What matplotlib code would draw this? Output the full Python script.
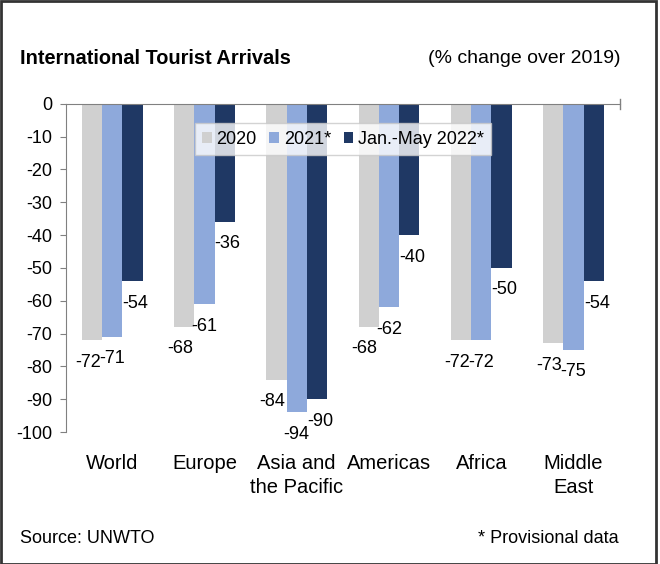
import numpy as np
from matplotlib import pyplot as plt
from matplotlib.patches import Rectangle

plt.rcParams['font.family'] = ['Liberation Sans', 'DejaVu Sans']
plt.rcParams['axes.unicode_minus'] = False

regions = ['World', 'Europe', 'Asia and\nthe Pacific', 'Americas', 'Africa', 'Middle\nEast']
series_names = ['2020', '2021*', 'Jan.-May 2022*']
vals_2020 = [-72, -68, -84, -68, -72, -73]
vals_2021 = [-71, -61, -94, -62, -72, -75]
vals_2022 = [-54, -36, -90, -40, -50, -54]

colors = ['#D0D0D0', '#8EA9DB', '#1F3864']
label_dx = [-4, 0, 3]  # small horizontal nudges of the data labels (pixels)

fig = plt.figure(figsize=(6.6, 5.64), dpi=100)
ax = fig.add_axes([0.1, 0.234, 0.839, 0.582])

x = np.arange(len(regions))
w = 0.22
for i, (name, vals) in enumerate(zip(series_names, [vals_2020, vals_2021, vals_2022])):
    pos = x + (i - 1) * w
    ax.bar(pos, vals, width=w, color=colors[i], label=name, zorder=2)
    for px, v in zip(pos, vals):
        ax.annotate(str(v), (px, v), xytext=(label_dx[i], -22), textcoords='offset pixels',
                    ha='center', va='center', fontsize=13)

ax.set_ylim(-100, 0)
ax.set_xlim(-0.5, len(regions) - 0.5)
ax.set_yticks(range(-100, 1, 10))
ax.tick_params(axis='y', labelsize=13, length=4, color='#808080', pad=6)
ax.set_xticks(x)
ax.set_xticklabels(regions, fontsize=14.5, linespacing=1.3, va='top')
ax.tick_params(axis='x', length=0, pad=16)

ax.spines['bottom'].set_visible(False)
ax.spines['right'].set_visible(False)
ax.spines['top'].set_color('#808080')
ax.spines['left'].set_color('#808080')
ax.plot([len(regions) - 0.5] * 2, [1.5, -1.5], color='#808080', lw=1, clip_on=False)

leg = ax.legend(loc='upper left', bbox_to_anchor=(0.216, 0.968), ncol=3, fontsize=13,
                frameon=True, fancybox=False, edgecolor='#C8C8C8', handlelength=0.55,
                handleheight=0.55, handletextpad=0.25, columnspacing=0.7,
                borderpad=0.4)
leg.get_frame().set_linewidth(1)

fig.text(0.03, 0.897, 'International Tourist Arrivals', fontsize=14.4, fontweight='bold',
         va='center', ha='left')
fig.text(0.94, 0.897, '(% change over 2019)', fontsize=14, va='center', ha='right')
fig.text(0.03, 0.046, 'Source: UNWTO', fontsize=13, va='center', ha='left')
fig.text(0.937, 0.046, '* Provisional data', fontsize=13, va='center', ha='right')

fig.patches.append(Rectangle((0.002, 0.0), 0.992, 0.998, transform=fig.transFigure,
                             fill=False, edgecolor='#333333', lw=2))

fig.savefig('out.png', dpi=100)
